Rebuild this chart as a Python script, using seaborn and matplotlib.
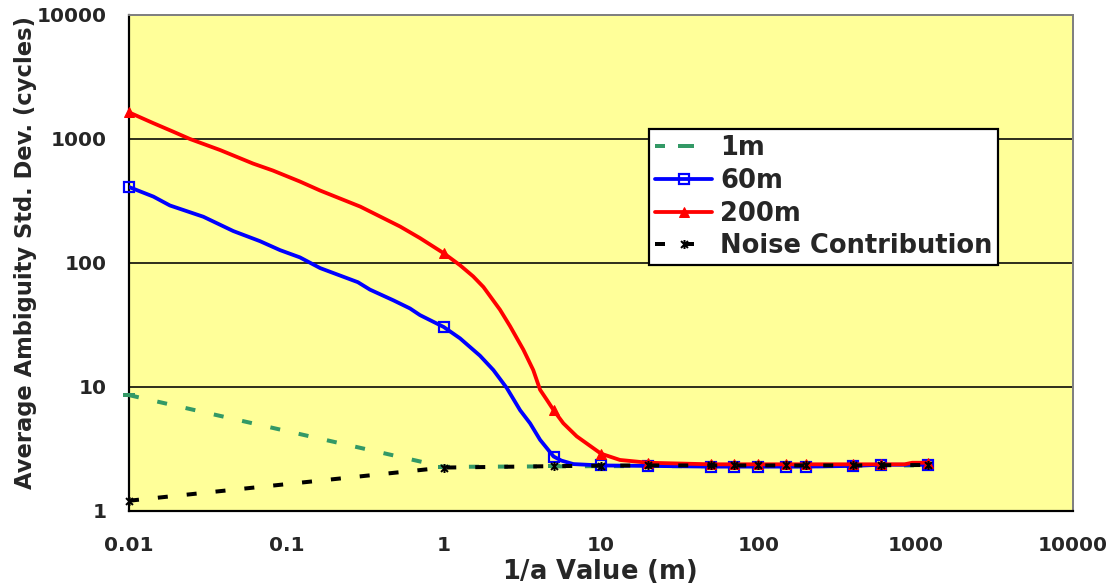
import matplotlib
matplotlib.use("Agg")
import numpy as np
import pandas as pd
import seaborn as sns
import matplotlib.pyplot as plt
from matplotlib.path import Path
from matplotlib.lines import Line2D
from matplotlib.ticker import FixedLocator, FixedFormatter, NullLocator

# ---- data -------------------------------------------------------------
# positions (1/alpha, m) that carry a marker on every series
marker_x = [0.01, 1, 5, 10, 20, 50, 70, 100, 150, 200, 400, 600, 1200]

# 1 m correlation length
m1_x = [0.01, 1, 5, 10, 20, 50, 70, 100, 150, 200, 400, 600, 1200]
m1_y = [8.6, 2.27, 2.29, 2.3, 2.3, 2.3, 2.3, 2.3, 2.3, 2.3, 2.31, 2.32, 2.34]

# 60 m correlation length
m60_x = [0.01, 0.0143, 0.0182, 0.0297, 0.046, 0.068, 0.0912, 0.122, 0.164,
         0.285, 0.34, 0.479, 0.611, 0.707, 1, 1.27, 1.70, 2.07, 2.52, 3.06,
         3.54, 4.10, 5, 5.6, 6.67, 10, 20, 50, 70, 100, 150, 200, 400, 600,
         1200]
m60_y = [410, 343, 291, 236, 181, 150, 127, 111, 91,
         70, 61, 50, 43, 38, 30.5, 24.7, 17.9, 13.7, 9.8, 6.5,
         5.1, 3.75, 2.75, 2.55, 2.39, 2.33, 2.31, 2.28, 2.28, 2.28, 2.28, 2.28,
         2.31, 2.36, 2.36]

# 200 m correlation length
m200_x = [0.01, 0.0142, 0.019, 0.0244, 0.0379, 0.0614, 0.0821, 0.122, 0.164,
          0.295, 0.528, 0.706, 1, 1.27, 1.54, 1.79, 2.28,
          2.64, 3.21, 3.71, 4.10, 4.52, 5, 5.76, 7.01, 10, 13.2, 20, 50, 70,
          100, 150, 200, 400, 600, 850, 950, 1200]
m200_y = [1640, 1346, 1149, 1000, 815, 634, 557, 454, 384,
          285, 197, 159, 120, 96, 78, 64, 42,
          31, 20, 13.7, 9.5, 7.9, 6.5, 5.1, 4.0, 2.9, 2.58, 2.45, 2.38, 2.38,
          2.38, 2.38, 2.38, 2.38, 2.38, 2.38, 2.45, 2.45]

# measurement-noise floor
noise_x = [0.01, 1, 5, 10, 20, 50, 70, 100, 150, 200, 400, 600, 1200]
noise_y = [1.21, 2.24, 2.3, 2.32, 2.33, 2.33, 2.33, 2.33, 2.33, 2.33, 2.33,
           2.34, 2.35]

series_labels = ["1m", "60m", "200m", "Noise Contribution"]
x_ticks = [0.01, 0.1, 1, 10, 100, 1000, 10000]
x_tick_labels = ["0.01", "0.1", "1", "10", "100", "1000", "10000"]
y_ticks = [1, 10, 100, 1000, 10000]
y_tick_labels = ["1", "10", "100", "1000", "10000"]

# ---- style ------------------------------------------------------------
sns.set_style("white")
plt.rcParams["font.family"] = ["DejaVu Sans"]
plt.rcParams["font.weight"] = "bold"
plt.rcParams["lines.scale_dashes"] = False

PX = 0.72  # points per pixel at dpi=100

# star marker: an x crossed by a vertical bar
star = Path([(-1, -1), (1, 1), (-1, 1), (1, -1), (0, -1.3), (0, 1.3)],
            [Path.MOVETO, Path.LINETO, Path.MOVETO, Path.LINETO,
             Path.MOVETO, Path.LINETO])

dash_style = (0, (10 * PX, 19 * PX))

styles = {
    "1m": dict(color="#339966", lw=4 * PX, ls=dash_style, marker="_",
               ms=12 * PX, mew=4 * PX, mfc="#339966", mec="#339966"),
    "60m": dict(color="#0000FF", lw=3.8 * PX, ls="-", marker="s",
                ms=9.5 * PX, mew=2.2 * PX, mfc="none", mec="#0000FF"),
    "200m": dict(color="#FF0000", lw=3.8 * PX, ls="-", marker="^",
                 ms=10 * PX, mew=1 * PX, mfc="#FF0000", mec="#FF0000"),
    "Noise Contribution": dict(color="black", lw=4 * PX, ls=dash_style,
                               marker=star, ms=9 * PX, mew=2 * PX,
                               mfc="black", mec="black"),
}

data = {
    "1m": (m1_x, m1_y),
    "60m": (m60_x, m60_y),
    "200m": (m200_x, m200_y),
    "Noise Contribution": (noise_x, noise_y),
}

fig = plt.figure(figsize=(11.2, 5.88), dpi=100)
ax = fig.add_axes([129 / 1120, 1 - 511 / 588, 944 / 1120, 496 / 588])
ax.set_facecolor("#FFFF99")

handles = []
for z, name in enumerate(series_labels):
    xs, ys = data[name]
    st = styles[name]
    df = pd.DataFrame({"x": xs, "y": ys})
    sns.lineplot(data=df, x="x", y="y", ax=ax, estimator=None, sort=False,
                 color=st["color"], linewidth=st["lw"], zorder=3 + z)
    ax.lines[-1].set_linestyle(st["ls"])
    mk = df[df["x"].isin(marker_x)]
    ax.plot(mk["x"], mk["y"], ls="none", marker=st["marker"],
            ms=st["ms"], mew=st["mew"], mfc=st["mfc"], mec=st["mec"],
            zorder=3 + z, clip_on=False)
    handles.append(Line2D([], [], color=st["color"], lw=st["lw"],
                          ls=st["ls"], marker=st["marker"], ms=st["ms"],
                          mew=st["mew"], mfc=st["mfc"], mec=st["mec"]))

ax.set_xscale("log")
ax.set_yscale("log")
ax.set_xlim(x_ticks[0], x_ticks[-1])
ax.set_ylim(y_ticks[0], y_ticks[-1])

ax.xaxis.set_major_locator(FixedLocator(x_ticks))
ax.xaxis.set_major_formatter(FixedFormatter(x_tick_labels))
ax.yaxis.set_major_locator(FixedLocator(y_ticks))
ax.yaxis.set_major_formatter(FixedFormatter(y_tick_labels))
ax.xaxis.set_minor_locator(NullLocator())
ax.yaxis.set_minor_locator(NullLocator())

ax.yaxis.grid(True, color="black", lw=1.6 * PX, zorder=1)
ax.xaxis.grid(False)
ax.set_axisbelow(True)

for side in ("left", "bottom"):
    ax.spines[side].set_color("black")
    ax.spines[side].set_linewidth(2.2 * PX)
for side in ("top", "right"):
    ax.spines[side].set_color("#808080")
    ax.spines[side].set_linewidth(2 * PX)

ax.tick_params(axis="y", which="major", direction="out", length=11 * PX,
               width=2 * PX, color="black", pad=8, labelsize=14.5)
ax.tick_params(axis="x", which="major", direction="out", length=10 * PX,
               width=2 * PX, color="black", pad=11, labelsize=14.5)
for lab in ax.get_xticklabels() + ax.get_yticklabels():
    lab.set_fontweight("bold")

ax.set_xlabel(r"1/$\mathregular{a}$ Value (m)", fontsize=18.5,
              fontweight="bold")
ax.xaxis.set_label_coords(0.498, -0.092)
ax.set_ylabel("Average Ambiguity Std. Dev. (cycles)", fontsize=16.3,
              fontweight="bold")
ax.yaxis.set_label_coords(-0.097, 0.522)

leg = ax.legend(handles, series_labels, loc="upper left",
                bbox_to_anchor=((649 - 129) / 944, (511 - 129) / 496),
                frameon=True, fancybox=False, framealpha=1, fontsize=18.5,
                handlelength=2.25, handletextpad=0.3, labelspacing=0.27,
                borderpad=0.22, borderaxespad=0, numpoints=1)
leg.get_frame().set_edgecolor("black")
leg.get_frame().set_linewidth(2.2 * PX)
leg.set_zorder(10)
for t in leg.get_texts():
    t.set_fontweight("bold")

fig.savefig("out.png", dpi=100, facecolor="white")
